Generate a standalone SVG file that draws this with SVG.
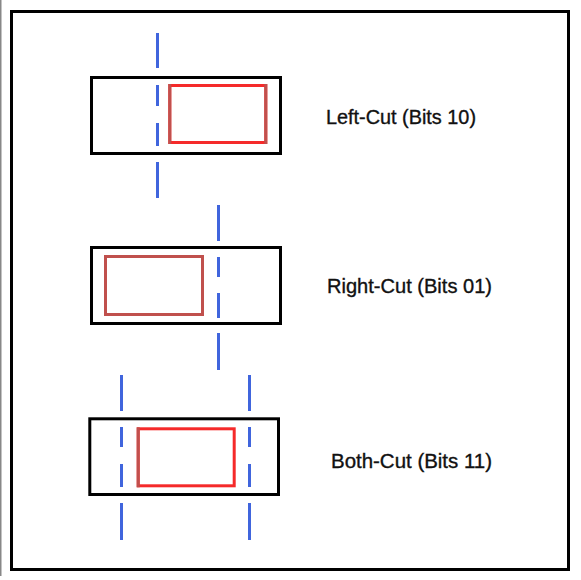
<svg xmlns="http://www.w3.org/2000/svg" width="581" height="580" viewBox="0 0 581 580">
  <style>
    .frame { fill: none; stroke: #000; stroke-width: 3; }
    .box { fill: none; stroke: #000; stroke-width: 3; }
    .red { fill: none; stroke: #f52a2a; stroke-width: 3; }
    .brown { fill: none; stroke: #c0504d; stroke-width: 3; }
    .cut { stroke: #4065dd; stroke-width: 3; fill: none; }
    .label { font-family: "Liberation Sans", Arial, sans-serif; font-size: 20px; fill: #111; stroke: #111; stroke-width: 0.35; }
  </style>
  <rect x="0" y="0" width="581" height="580" fill="#fff"/>
  <rect x="0" y="0" width="1.5" height="576" fill="#888"/>
  <rect class="frame" x="11.5" y="11.5" width="557" height="558"/>

  <g id="node-left-cut">
    <rect class="box" x="91.5" y="77.5" width="189" height="76"/>
    <rect class="red" x="169.8" y="85.5" width="96" height="57"/>
    <path class="brown" d="M169.8 84V144M265.8 84V144"/>
    <text class="label" x="326" y="124" textLength="150" lengthAdjust="spacingAndGlyphs">Left-Cut (Bits 10)</text>
  </g>

  <g id="node-right-cut">
    <rect class="box" x="91.5" y="247.5" width="189" height="76"/>
    <rect class="brown" x="105.5" y="256.5" width="97" height="58"/>
    <text class="label" x="327" y="293" textLength="165" lengthAdjust="spacingAndGlyphs">Right-Cut (Bits 01)</text>
  </g>

  <g id="node-both-cut">
    <rect class="box" x="89.8" y="418.8" width="188.7" height="75.7"/>
    <rect class="red" x="138.2" y="428.8" width="96" height="57"/>
    <path class="brown" d="M138.2 427.3V487.3"/>
    <text class="label" x="331" y="468" textLength="161" lengthAdjust="spacingAndGlyphs">Both-Cut (Bits 11)</text>
  </g>

  <g id="connectors">
    <path class="cut" d="M157.5 33V68M157.5 85V106M157.5 123V146M157.5 162V198"/>
    <path class="cut" d="M218.5 205V241M218.5 257V277M218.5 293V318M218.5 333V370"/>
    <path class="cut" d="M121.5 375V411M121.5 427V447M121.5 464V487M121.5 503V540"/>
    <path class="cut" d="M249.5 375V411M249.5 427V447M249.5 464V487M249.5 503V540"/>
  </g>
</svg>
